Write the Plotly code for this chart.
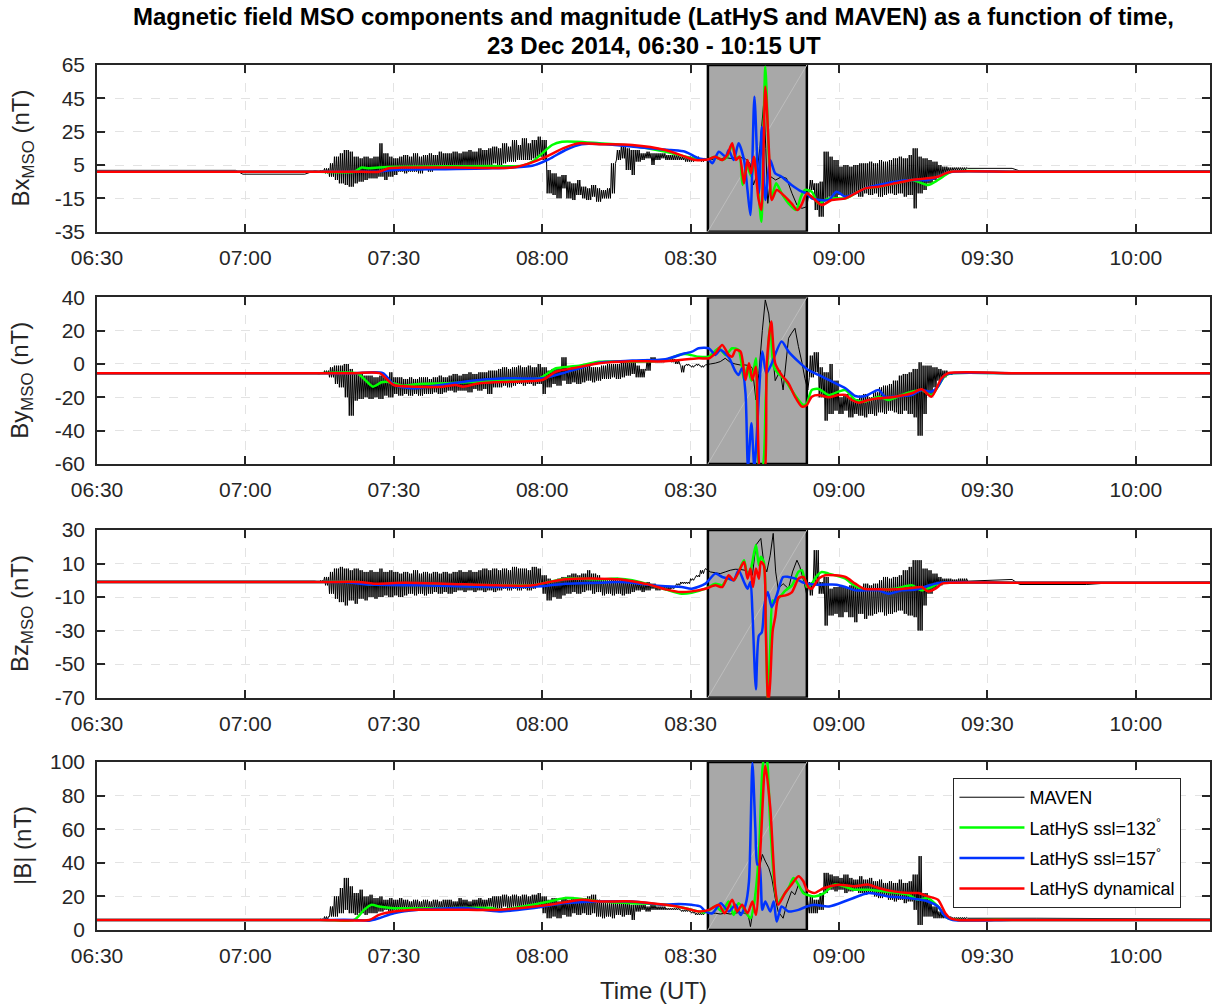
import plotly.graph_objects as go

# ---------------- axis / category data ----------------
TICK_MIN = [0, 30, 60, 90, 120, 150, 180, 210]          # minutes after 06:30
TICK_LABELS = ["06:30", "07:00", "07:30", "08:00", "08:30", "09:00", "09:30", "10:00"]
X_RANGE = [0, 225]
SHADE_MIN = [123.5, 143.5]

Y_TITLES = ["Bx<sub>MSO</sub> (nT)", "By<sub>MSO</sub> (nT)", "Bz<sub>MSO</sub> (nT)", "|B| (nT)"]
Y_RANGES = [[-35, 65], [-60, 40], [-70, 30], [0, 100]]
Y_TICKS = [[-35, -15, 5, 25, 45, 65], [-60, -40, -20, 0, 20, 40],
           [-70, -50, -30, -10, 10, 30], [0, 20, 40, 60, 80, 100]]

SERIES = ["MAVEN", "LatHyS ssl=132<sup>°</sup>", "LatHyS ssl=157<sup>°</sup>", "LatHyS dynamical"]

# ---------------- MAVEN ----------------
# quiet parts as (minute, value); noisy parts as per-minute (low/high) pairs
NOISE1_T0 = 45     # minutes 45..122
NOISE2_T0 = 144    # minutes 144..175

BX_PRE = [(0, 1.8), (28, 1.8), (29.5, -0.5), (42, -0.5), (44, 1.5)]
BX_N1_A = [1, 0, -2, -4, -6, -7, -8, -6, -5, -4,
           -3, -3, -2, -4, -2, -1, 1, 0, 1, 1,
           0, 2, 1, 2, 2, 3, 2, 3, 3, 4,
           3, 4, 4, 5, 5, 6, 5, 6, 7, 7,
           8, 8, 8, 9, 10, 8, -12, -13, -15, -9,
           -15, -16, -13, -15, -16, -14, -17, -15, -15, -12,
           8, 9, 2, -1, 7, 8, 9, 5, 8, 9,
           8, 8, 8, 8, 7, 7, 8, 7]
BX_N1_B = [2, 3, 6, 10, 12, 14, 13, 10, 9, 10,
           9, 10, 18, 12, 10, 9, 10, 11, 10, 12,
           10, 11, 12, 11, 13, 12, 12, 13, 12, 13,
           14, 13, 15, 14, 15, 16, 15, 18, 16, 20,
           17, 21, 18, 20, 22, 20, 2, 0, -2, -1,
           -5, -6, -4, -8, -9, -7, -9, -10, -9, 6,
           14, 17, 15, 14, 14, 12, 13, 12, 12, 12,
           11, 11, 11, 10, 10, 10, 10, 9]
BX_MID = [(123, 8.5), (124, 8), (125, 9), (126, 8.5), (127, 9.5), (128, 9), (129, 8.5), (130, 9.5), (131, 9),
          (132, 6), (132.7, -7), (133.3, -2), (134, 15), (134.8, 43), (135.2, 15), (135.6, -18), (136.2, -2),
          (137.2, -4), (138.4, -2), (139.4, -3), (140.5, -12), (141.5, -19), (142.5, -21), (143.5, -20)]
BX_N2_A = [-10, -22, -26, -16, -14, -16, -13, -14, -13, -12, -14, -12, -13, -12, -14, -13,
           -12, -13, -12, -14, -13, -21, -12, -10, -6, -4, -2, 0, 1, 2, 2, 2]
BX_N2_B = [-4, -6, -5, 13, 10, 8, 4, 5, 4, 5, 6, 6, 7, 6, 8, 7,
           8, 9, 10, 9, 11, 15, 10, 9, 8, 7, 5, 4, 3.5, 3.5, 3.5, 3.5]
BX_POST = [(176, 3), (185, 3), (186.5, 1.5), (225, 1.5)]

BY_PRE = [(0, -5.5), (44, -5.5)]
BY_N1_A = [-6, -6, -8, -12, -14, -20, -31, -22, -21, -20,
           -21, -20, -21, -19, -20, -18, -19, -18, -19, -18,
           -19, -18, -18, -17, -18, -17, -16, -17, -16, -16,
           -17, -15, -16, -15, -18, -14, -14, -13, -14, -13,
           -12, -13, -12, -13, -12, -18, -14, -12, -13, -10,
           -12, -11, -12, -11, -10, -11, -10, -9, -9, -8,
           -9, -8, -7, -6, -8, -8, -4, 1, 1, 1,
           2, 1, 0, -5, -1, -2, -1, -2]
BY_N1_B = [-5, -4, -2, -1, -1, 0, -3, -5, -6, -7,
           -7, -8, -7, -8, -5, -8, -8, -9, -8, -9,
           -8, -8, -9, -8, -7, -8, -7, -6, -7, -6,
           -5, -6, -5, -5, -4, -4, -3, -2, -3, -2,
           -1, -2, -1, -2, 0, -2, -4, -3, -2, 4,
           -3, -2, -3, -2, -1, -2, -2, -1, 0, 0,
           0, 1, 1, 2, -1, -3, 3, 4, 3, 3,
           3, 3, 2, -1, 0, -1, 0, -1]
BY_MID = [(123, -0.6), (124, 0), (125, 0.5), (126, 1.4), (127, 3.4), (128, 1), (129, 0), (130, -0.6),
          (131, -0.6), (132, -1), (132.5, -2.6), (133.2, -21.6), (133.8, -5.6), (134.5, 20), (135.1, 38.4),
          (135.8, 30), (136.4, 12), (137.1, -10), (138.1, -4), (138.7, -15.6), (139.8, 15.4), (140.4, 18.4),
          (141.1, 21.4), (141.8, 10.4), (142.5, 1), (143.1, -8.6), (143.7, -15.6)]
BY_N2_A = [-8, -5, -20, -34, -30, -28, -30, -28, -32, -30, -31, -32, -30, -31, -29, -30,
           -28, -29, -30, -28, -30, -32, -43, -30, -18, -14, -10, -8, -6.5, -6, -6, -6]
BY_N2_B = [5, 7, -2, -5, 0, -10, -20, -18, -20, -21, -19, -18, -20, -17, -14, -13,
           -12, -10, -7, -6, -5, -3, 1, -1, -1, -2, -3, -4, -5, -5, -5, -5]
BY_POST = [(176, -5.5), (225, -5.5)]

BZ_PRE = [(0, -0.5), (44, -0.5)]
BZ_N1_A = [-1, -3, -8, -11, -13, -15, -12, -14, -11, -12,
           -10, -11, -10, -9, -10, -9, -10, -9, -8, -9,
           -8, -9, -8, -7, -8, -7, -8, -7, -6, -7,
           -6, -7, -6, -7, -6, -7, -6, -5, -6, -5,
           -6, -5, -6, -5, -4, -8, -12, -10, -11, -9,
           -8, -7, -8, -7, -6, -8, -7, -9, -8, -9,
           -8, -9, -8, -7, -6, -7, -6, -5, -6, -5,
           -6, -5, -3, -2, -2, 0, 2, 4]
BZ_N1_B = [0, 2, 5, 7, 8, 7, 6, 7, 6, 5,
           6, 5, 7, 5, 6, 5, 4, 5, 4, 6,
           4, 5, 4, 5, 4, 5, 4, 5, 6, 5,
           6, 5, 6, 7, 6, 7, 6, 7, 6, 8,
           7, 7, 6, 8, 7, 3, 1, 0, 1, 2,
           3, 4, 3, 4, 6, 4, 3, 1, 0, 1,
           0, 1, 0, -1, -1, -2, -1, -2, -3, -4,
           -4, -4, -2, -1, -1, 1, 3, 6]
BZ_MID = [(123, 7), (124, 5), (125, 4.5), (126, 4), (127, 5), (128, 6), (129, 6.6), (130, 6.5), (131, 6),
          (132, 4), (132.5, 3), (133.2, 21), (134.2, 25), (134.8, 10), (135.4, 5), (136.1, 15), (136.7, 28),
          (137.2, 5), (137.7, -5), (138.7, -2), (139.8, -5), (140.6, 5), (141.5, 12), (142.1, 8), (143, -2),
          (143.5, -9)]
BZ_N2_A = [-1, -3, -8, -27, -21, -20, -22, -19, -22, -25, -20, -23, -21, -20, -19, -21,
           -20, -19, -18, -20, -21, -22, -30, -15, -8, -5, -3, -2, -2, -1.5, -2, -1.5]
BZ_N2_B = [-9, 18, -1, 2, -5, -4, -3, -4, -3, -3, -4, -2, -3, -2, 0, 2,
           1, 2, 3, 6, 8, 12, 12, 7, 6, 4, 2, 1, 1, 0.5, 1, 1]
BZ_POST = [(176, -0.5), (185, 0.5), (186.5, -2.5), (200, -2.5), (205, -1.5), (225, -1)]

BM_PRE = [(0, 6), (44, 6)]
BM_N1_A = [6, 6, 8, 8, 10, 12, 10, 9, 10, 9,
           10, 10, 11, 12, 11, 12, 12, 13, 12, 13,
           12, 13, 12, 13, 12, 13, 12, 13, 12, 13,
           12, 13, 13, 13, 14, 13, 13, 14, 13, 14,
           13, 14, 13, 14, 13, 10, 7, 8, 7, 9,
           8, 10, 9, 10, 9, 10, 8, 7, 8, 7,
           9, 8, 9, 6, 11, 12, 11, 12, 12, 12,
           12, 12, 12, 11, 11, 10, 9, 9]
BM_N1_B = [6.5, 8, 14, 20, 25, 31, 26, 22, 24, 20,
           21, 19, 20, 18, 19, 18, 19, 18, 17, 18,
           17, 18, 17, 18, 17, 18, 18, 17, 19, 18,
           17, 18, 19, 18, 19, 20, 20, 21, 20, 21,
           20, 21, 20, 21, 22, 20, 18, 19, 17, 19,
           18, 19, 18, 19, 20, 21, 18, 17, 16, 17,
           16, 17, 16, 15, 15, 15, 14, 15, 14, 14,
           13, 13, 13, 12, 12, 11, 10, 10]
BM_MID = [(123, 10.5), (124, 10), (125, 10), (126, 9.5), (127, 10), (128, 9.5), (129, 10), (130, 10.5),
          (131, 10), (131.7, 8), (132.1, 2), (132.8, 15), (133.5, 31), (134.5, 45), (135.1, 41), (135.8, 37),
          (136.4, 31), (137.1, 19), (137.7, 11), (138.7, 7), (139.4, 15), (140.4, 23), (141.1, 21),
          (141.8, 27), (142.5, 24), (143.5, 21)]
BM_N2_A = [10, 10, 12, 22, 24, 23, 24, 22, 23, 24, 22, 21, 22, 20, 19, 20,
           18, 17, 18, 16, 17, 12, 3, 8, 8, 7, 7, 7, 6.5, 6.5, 6.5, 6.5]
BM_N2_B = [20, 18, 22, 34, 33, 32, 31, 33, 31, 30, 32, 30, 31, 29, 30, 28,
           29, 28, 30, 28, 29, 33, 44, 22, 18, 14, 11, 9, 8, 7.5, 7.5, 7.5]
BM_POST = [(176, 7), (190, 7), (225, 6.5)]

# ---------------- LatHyS (smooth) : (minute, value) ----------------
BX_GREEN = [(0, 1), (15, 1), (30, 1), (45, 1), (52, 1), (53.5, 3.5), (55, 3), (57, 3.5), (60, 4), (70, 4.2),
            (80, 4.4), (86, 4.5), (88, 7), (90, 12), (92, 17), (94, 19), (97, 19), (101.5, 18), (108, 16.5),
            (115, 13), (119, 10), (121.6, 8.5), (123.7, 8.5), (125, 10), (126.4, 8), (127.4, 10), (128.4, 17),
            (129.2, 9), (129.9, 10), (130.5, -7), (131.3, 5), (132.3, -2), (133, 9), (133.7, -10),
            (134.3, -29), (135.1, 64), (135.8, 12), (136.4, -14), (137.3, -6), (138.4, -12), (139.8, -18),
            (141.3, -22), (142.3, -14), (143.1, -10), (144.5, -11), (145.8, -18), (147.9, -15), (151.3, -15),
            (153.3, -12), (155.3, -9), (158, -8), (161.4, -6), (164.7, -4), (166, -5), (168, -7), (170, -4),
            (171.5, -1), (172.7, 1), (185, 1), (200, 1), (225, 1)]
BX_BLUE = [(0, 1), (15, 1), (30, 1), (45, 1), (52, 1), (57, 1), (60, 2), (70, 2.5), (80, 3), (88, 4.5),
           (91.4, 8.5), (94.7, 14), (98, 17.5), (104.7, 17), (111.5, 15), (116, 14), (118.9, 13), (121.6, 9),
           (123.7, 8), (124.4, 6), (125.7, 13), (127.1, 10), (127.7, 14), (128.7, 8), (129.7, 18), (130.8, 8),
           (131.5, -10), (132.1, -25), (132.9, 46), (133.8, -12), (134.4, 28), (135.1, -16), (136.1, 8),
           (137.1, 0), (138.4, -2), (140.4, -7), (142.5, -11), (143.5, -12), (144.5, -15), (147.9, -16),
           (149.5, -11), (151.3, -14), (153.3, -12), (155.3, -9), (158, -7), (161.4, -5), (164.7, -4), (168, -4),
           (170, -2), (171.5, 0), (173, 1), (185, 1), (200, 1), (225, 1)]
BX_RED = [(0, 1), (15, 1), (30, 1), (45, 1), (52, 1), (57, 1), (59, 3), (62, 3.5), (72, 3.5), (84, 3.5),
          (87.4, 6), (90.8, 10), (94.2, 15), (97.5, 18), (101.5, 17.5), (108.2, 17), (114.9, 14), (118.9, 10),
          (120.9, 8), (123.7, 8.5), (125, 10), (126.4, 8), (127.4, 11), (128.4, 18), (129.2, 8), (129.9, 10),
          (130.8, -6), (131.5, 8), (132.2, 0), (132.8, 10), (133.7, -15), (134.3, -22), (135.1, 52),
          (135.9, 10), (136.4, -16), (137.4, -10), (139.1, -14), (140.4, -18), (141.6, -22), (142.4, -19),
          (143.5, -12), (144.5, -14), (146.5, -19), (148.5, -16), (151.3, -15), (153.3, -12), (155.3, -9),
          (158, -8), (161.4, -6), (164.7, -4), (168, -3), (170, -2), (171.5, 0), (172.7, 1), (185, 1),
          (200, 1), (225, 1)]

BY_GREEN = [(0, -5.5), (15, -5.5), (30, -5.5), (45, -5.5), (52.5, -5.5), (54, -9), (55.8, -13.6), (57.5, -11),
            (58.5, -10.6), (60, -11.6), (61.8, -13), (65, -12), (70.6, -11.6), (77.3, -10.6), (84, -9.6),
            (89.4, -8.6), (92.8, -2.6), (95.5, -1.6), (97.5, -1), (101.5, 1.4), (108.2, 1.4), (114.9, 2.4),
            (117.6, 5.4), (118.9, 6), (121.6, 4.4), (123.7, 4.4), (125.7, 9.4), (127.1, 5.4), (128.4, 9.4),
            (129.7, 8.4), (130.8, -9.6), (131.5, -1.6), (132.3, -10), (133.2, 3.4), (133.9, -62), (134.5, -62),
            (135.2, -20), (136.1, 24.4), (136.8, -1.6), (137.7, -5.6), (139.1, -9.6), (140.4, -15.6),
            (141.8, -21.6), (142.8, -24.6), (143.5, -23.6), (144.5, -15.6), (145.9, -15), (147.9, -18.6),
            (149.9, -16.6), (151.3, -15.6), (153.3, -21.6), (155.3, -22.6), (158, -19.6), (160, -21.6),
            (162.7, -18.6), (164.7, -16.6), (166.7, -15.6), (168.7, -18.6), (170, -13.6), (171.4, -7.2),
            (172.7, -5.6), (185, -5.5), (200, -5.5), (225, -5.5)]
BY_BLUE = [(0, -5.5), (15, -5.5), (30, -5.5), (45, -5.5), (52, -5.5), (57.8, -5.5), (60.1, -12.6),
           (63.8, -14.6), (67, -13.6), (72, -11.6), (77.3, -9.6), (84, -8.6), (90, -8.6), (94.1, -5.6),
           (97.5, -2.6), (101.5, 0.8), (108.2, 2), (114.9, 2.8), (118.9, 6.4), (120.3, 7.4), (121.6, 9.4),
           (123.7, 9.4), (125, 5.4), (126, 8.4), (127.7, 4), (129.1, -4.6), (129.7, -6.6), (130.4, -2.6),
           (131.1, -17.6), (131.6, -62), (132.3, -35.6), (132.9, -62), (134.5, 7.4), (135.3, -5.6),
           (136.3, -0.4), (138.4, 13.4), (139.8, 7.4), (141.8, 1.4), (143.8, -3.6), (145.9, -6.6),
           (147.9, -9.6), (151.3, -14.6), (153.3, -19.2), (155.3, -19.2), (158, -15.6), (159.3, -19.6),
           (162.7, -19.2), (164.7, -18.6), (166.7, -15.6), (168.7, -16.6), (170, -13.6), (171.4, -6.6),
           (173, -5.5), (185, -5.5), (200, -5.5), (225, -5.5)]
BY_RED = [(0, -5.5), (15, -5.5), (30, -5.5), (45, -5.5), (52, -5.5), (57.1, -5.5), (60, -12.6), (64, -13.6),
          (70, -13.6), (72.5, -12.6), (74, -13.6), (77.3, -11.6), (84, -10.6), (90, -9.6), (92.8, -4.6),
          (96.2, -2.6), (101.5, 0.4), (108.2, 1.6), (114.9, 1.6), (121.6, 3.4), (123.7, 3.4), (125, 6.4),
          (126.4, 11.4), (127.7, 5.4), (128.4, 4.4), (129.1, 8.4), (130.1, 7.4), (131.1, -9.6), (131.8, 0.4),
          (132.5, -9.6), (133.2, -1.6), (134.2, -70), (134.8, -70), (135.4, 0), (136.3, 25.4), (137.1, 0.4),
          (138.4, -6.6), (139.8, -11.6), (141.1, -19.6), (142.5, -25.6), (143.5, -24.6), (144.5, -19.6),
          (145.9, -18.6), (147.9, -20), (149.9, -18.6), (151.3, -18.6), (152.6, -21.6), (154, -23.2),
          (156, -21.6), (158, -20.6), (161.4, -19.6), (164.7, -17.6), (166.7, -15.2), (168.7, -19.6),
          (170.7, -8.6), (172, -5.6), (185, -5.5), (200, -5.5), (225, -5.5)]

BZ_GREEN = [(0, -1), (15, -1), (30, -1), (45, -1), (53, -1), (55, -2.5), (60, -2), (70, -2.5), (81, -3),
            (88, -3), (91.4, -1), (94.7, 1), (101.5, 0.6), (105.5, 1), (108.2, 0), (112.2, -3), (114.9, -5.4),
            (118.2, -8), (120.2, -7.4), (123, -5), (125, -2), (126.4, -3), (127.7, 2), (128.7, 0), (129.7, 5),
            (130.8, 12), (131.5, 3), (132.2, 7), (133.2, 21), (133.8, 9), (134.2, 14), (134.8, 11), (135.2, -20),
            (135.6, -72), (136.1, -40), (136.6, -12), (137.1, -13), (137.7, -11), (139.2, -6), (140.5, -3),
            (141.8, 5), (142.5, 6), (143.5, -4), (144.5, -2), (145.6, 3), (146.5, 5), (147.9, 4), (151.3, 1),
            (152.6, -2), (154.6, -5), (158, -5.4), (161.4, -5), (164.7, -3), (166.7, -6), (168.7, -4),
            (170, -2), (171.4, -1.4), (185, -1.4), (200, -1.4), (225, -1.4)]
BZ_BLUE = [(0, -1), (15, -1), (30, -1), (45, -1), (50, -1), (55, -2.5), (65, -3), (73, -3.5), (81, -4),
           (90, -3.5), (94.7, -2), (101.5, -1.4), (105.5, -1), (108.2, -1.4), (112.2, -3), (114.9, -3.6),
           (118.2, -4), (120.2, -5), (123, -2), (125, 4), (126.4, 2), (127.7, 1), (128.7, 0), (129.7, 6),
           (130.8, -1), (131.5, -5), (132.1, -1), (132.5, -19), (133.2, -65), (133.8, -33), (134.4, -31),
           (134.9, -15), (135.6, -7), (136.4, -16), (137.4, -9), (138.7, 2), (139.8, 2), (141.2, 1),
           (142.5, -1), (143.5, -2), (145.9, -2.6), (149.5, -2.6), (151.3, -4), (153.3, -6), (158, -6),
           (160, -8), (162.7, -6), (165.5, -5.5), (168.7, -2.6), (170.5, -1.4), (185, -1.4), (200, -1.4),
           (225, -1.4)]
BZ_RED = [(0, -1), (15, -1), (30, -1), (45, -1), (53, -1), (56, -2), (62, -1.5), (70, -2), (81, -3), (88, -3),
          (91.4, -1), (94.7, 0.6), (101.5, 1), (105.5, 0.6), (108.2, -0.6), (112.2, -3), (114.9, -5.4),
          (118.2, -7), (120.2, -6.6), (123, -5), (125, -3), (126.4, -4), (127.7, 3), (128.7, 0), (129.7, 5),
          (130.8, 11), (131.5, 1), (132.1, 7), (132.6, -4), (133.2, 7), (133.8, 1), (134.2, 11), (134.8, 9),
          (135.2, -30), (135.7, -75), (136.1, -60), (136.6, -30), (137.1, -22), (137.8, -10), (139.2, -9),
          (140.5, -7), (141.8, 1), (142.8, 2), (143.8, -4), (144.5, -5), (145.9, 1), (147.2, 3), (149.2, 3),
          (151.3, 2), (153.3, -2), (155, -5), (158, -5.4), (161.4, -5.4), (164.7, -4.6), (166.7, -4),
          (168, -6.6), (169.5, -5), (170.8, -2), (172.7, -1.4), (185, -1.4), (200, -1.4), (225, -1.4)]

BM_GREEN = [(0, 6), (15, 6), (30, 6), (45, 6), (52, 6), (54, 12), (55.5, 15), (57, 14), (60, 13), (70, 13),
            (80, 13), (81.3, 12), (86, 14), (91.4, 17), (94.7, 19), (98, 18.5), (101.5, 17), (108.2, 16),
            (114.9, 15), (118.9, 13), (121.6, 11), (123, 10.5), (125, 14), (126.4, 11), (127.7, 17), (128.7, 9),
            (129.7, 16), (131.1, 11), (132.1, 7), (132.8, 15), (133.8, 45), (134.5, 95), (135, 106),
            (135.5, 100), (136.1, 63), (137.1, 23), (137.7, 16), (138.4, 19), (139.8, 25), (140.8, 31),
            (141.8, 27), (142.8, 22), (143.5, 21), (145, 20), (147, 22), (149, 27), (151, 26), (153, 24),
            (156, 24), (159, 23), (162, 22), (164, 21), (166, 18), (168, 19), (170, 14), (172, 7), (174, 6),
            (185, 6), (200, 6), (225, 6)]
BM_BLUE = [(0, 6), (15, 6), (30, 6), (45, 6), (52, 6), (55, 5.5), (57, 7), (60, 10), (65, 12), (75, 13),
           (81.3, 11), (88, 13), (94.7, 16), (101.5, 17), (108.2, 17), (114.9, 15), (117.6, 15.5), (120.2, 15),
           (122, 14), (123, 11), (124.4, 10), (126.1, 16), (127.7, 11), (129.1, 15), (130.1, 9), (131.1, 15),
           (131.8, 29), (132.5, 99.5), (133.1, 60), (133.5, 39), (133.9, 39), (134.5, 12), (135.1, 17),
           (136.1, 11), (136.8, 17), (137.4, 5), (138.4, 14), (139.8, 11), (141.8, 12), (143.5, 14), (145, 15),
           (148, 14), (152, 18), (156, 22), (160, 20), (164, 19), (168, 17), (170, 14), (171.5, 8), (173, 6),
           (185, 6), (200, 6), (225, 6)]
BM_RED = [(0, 6), (15, 6), (30, 6), (45, 6), (55, 6), (57, 9), (60, 11), (65, 12), (75, 12), (81.3, 12),
          (91.4, 15), (98, 18), (101.5, 17), (108.2, 17), (114.9, 15), (118.9, 13), (121.6, 11), (123.7, 12),
          (125.7, 15), (126.9, 10), (128.4, 18), (129.4, 11), (130.4, 15), (131.5, 10), (132.5, 17), (133.2, 9),
          (134.2, 53), (135.1, 98), (136.1, 73), (137.1, 25), (137.7, 15), (139.1, 22), (140.4, 27),
          (141.8, 32), (142.8, 29), (143.5, 24), (145, 22), (147, 25), (150, 27), (153, 26), (156, 27),
          (158, 25), (161, 23), (164, 22), (166, 22), (168, 20), (170, 18), (171.5, 10), (172.5, 7), (174, 6),
          (185, 6), (200, 6), (225, 6)]

MAVEN_DATA = [
    (BX_PRE, BX_N1_A, BX_N1_B, BX_MID, BX_N2_A, BX_N2_B, BX_POST),
    (BY_PRE, BY_N1_A, BY_N1_B, BY_MID, BY_N2_A, BY_N2_B, BY_POST),
    (BZ_PRE, BZ_N1_A, BZ_N1_B, BZ_MID, BZ_N2_A, BZ_N2_B, BZ_POST),
    (BM_PRE, BM_N1_A, BM_N1_B, BM_MID, BM_N2_A, BM_N2_B, BM_POST),
]
MODEL_DATA = [(BX_GREEN, BX_BLUE, BX_RED), (BY_GREEN, BY_BLUE, BY_RED),
              (BZ_GREEN, BZ_BLUE, BZ_RED), (BM_GREEN, BM_BLUE, BM_RED)]

# ---------------- styling ----------------
COLORS = ["#000000", "#00ff00", "#0033ff", "#ff0000"]
FONT = "Liberation Sans, Arial, Helvetica, sans-serif"
AX_COLOR = "#262626"
GRID_COLOR = "#e3e3e3"
SHADE_COLOR = "#a8a8a8"
DOMAINS = [[0.8073, 1.0], [0.5387, 0.7315], [0.2686, 0.4624], [0.0, 0.1942]]
SUBSTEP = 0.2   # drawing sub-step (minutes) used to sweep each minute's low/high range


def add_points(xs, ys, pts):
    for t, v in pts:
        xs.append(t)
        ys.append(v)


def add_noise(xs, ys, t0, lows, highs):
    # each minute: sweep back and forth between the low and high
    for i, (lo, hi) in enumerate(zip(lows, highs)):
        t = t0 + i
        seq = [lo, hi, lo, hi, lo] if i % 2 == 0 else [hi, lo, hi, lo, hi]
        for j, v in enumerate(seq):
            xs.append(t + j * SUBSTEP)
            ys.append(v)


def maven_xy(pre, n1a, n1b, mid, n2a, n2b, post):
    xs, ys = [], []
    add_points(xs, ys, pre)
    add_noise(xs, ys, NOISE1_T0, n1a, n1b)
    add_points(xs, ys, mid)
    add_noise(xs, ys, NOISE2_T0, n2a, n2b)
    add_points(xs, ys, post)
    return xs, ys


fig = go.Figure()

for p in range(4):
    xa = "x" if p == 0 else f"x{p+1}"
    ya = "y" if p == 0 else f"y{p+1}"
    last = (p == 3)
    y0, y1 = Y_RANGES[p]
    # shaded interval (drawn as a filled trace so it sits above the grid but below the data)
    fig.add_trace(go.Scatter(x=[SHADE_MIN[0], SHADE_MIN[0], SHADE_MIN[1], SHADE_MIN[1], SHADE_MIN[0]],
                             y=[y0, y1, y1, y0, y0], mode="lines", fill="toself", fillcolor=SHADE_COLOR,
                             line=dict(color="#000000", width=2.5), xaxis=xa, yaxis=ya,
                             showlegend=False, hoverinfo="skip"))
    fig.add_trace(go.Scatter(x=[SHADE_MIN[0], SHADE_MIN[1]], y=[y0, y1], mode="lines",
                             line=dict(color="#bdbdbd", width=1), xaxis=xa, yaxis=ya,
                             showlegend=False, hoverinfo="skip"))
    mx, my = maven_xy(*MAVEN_DATA[p])
    fig.add_trace(go.Scatter(x=mx, y=my, mode="lines", name=SERIES[0], xaxis=xa, yaxis=ya,
                             line=dict(color=COLORS[0], width=1, simplify=False), showlegend=last,
                             legendgroup="g0"))
    for k, series in enumerate(MODEL_DATA[p]):
        fig.add_trace(go.Scatter(x=[s[0] for s in series], y=[s[1] for s in series], mode="lines",
                                 name=SERIES[k + 1], xaxis=xa, yaxis=ya,
                                 line=dict(color=COLORS[k + 1], width=2.5, shape="spline", smoothing=0.7),
                                 showlegend=last, legendgroup=f"g{k+1}"))

    axis_common = dict(showline=True, linecolor=AX_COLOR, linewidth=1.5, mirror="ticks",
                       ticks="inside", ticklen=8, tickwidth=1.5, tickcolor=AX_COLOR,
                       showgrid=True, gridcolor=GRID_COLOR, griddash="dash", gridwidth=1,
                       zeroline=False, tickfont=dict(family=FONT, size=21, color=AX_COLOR))
    xkey = "xaxis" if p == 0 else f"xaxis{p+1}"
    ykey = "yaxis" if p == 0 else f"yaxis{p+1}"
    fig.update_layout({
        xkey: dict(axis_common, domain=[0, 1], anchor=ya, range=X_RANGE, tickmode="array",
                   tickvals=TICK_MIN, ticktext=TICK_LABELS, ticklabelstandoff=6),
        ykey: dict(axis_common, domain=DOMAINS[p], anchor=xa, range=Y_RANGES[p], tickmode="array",
                   tickvals=Y_TICKS[p], ticktext=[str(v) for v in Y_TICKS[p]], ticklabelstandoff=6),
    })
    fig.add_annotation(text=Y_TITLES[p], xref="paper", yref="paper", x=-0.0673,
                       y=(DOMAINS[p][0] + DOMAINS[p][1]) / 2, textangle=-90, showarrow=False,
                       xanchor="center", yanchor="middle",
                       font=dict(family=FONT, size=24, color=AX_COLOR))

fig.add_annotation(text="<b>Magnetic field MSO components and magnitude (LatHyS and MAVEN) as a function of time,</b>",
                   xref="paper", yref="paper", x=0.5, y=1.0566, showarrow=False, xanchor="center",
                   yanchor="middle", font=dict(family=FONT, size=24, color="#000000"))
fig.add_annotation(text="<b>23 Dec 2014, 06:30 - 10:15 UT</b>",
                   xref="paper", yref="paper", x=0.5, y=1.022, showarrow=False, xanchor="center",
                   yanchor="middle", font=dict(family=FONT, size=24, color="#000000"))
fig.add_annotation(text="Time (UT)", xref="paper", yref="paper", x=0.5, y=-0.0694, showarrow=False,
                   xanchor="center", yanchor="middle", font=dict(family=FONT, size=24, color=AX_COLOR))

fig.update_layout(
    width=1215, height=1006,
    margin=dict(l=97, r=3, t=65, b=76),
    paper_bgcolor="white", plot_bgcolor="white",
    showlegend=True,
    legend=dict(x=0.7695, y=0.1757, xanchor="left", yanchor="top", bgcolor="white",
                bordercolor=AX_COLOR, borderwidth=1, font=dict(family=FONT, size=18, color="#000000"),
                traceorder="grouped", tracegroupgap=4, itemwidth=65),
    hovermode=False,
)

fig.write_html("out.html", config={"displayModeBar": False},
               post_script="document.body.style.margin='0px';")
